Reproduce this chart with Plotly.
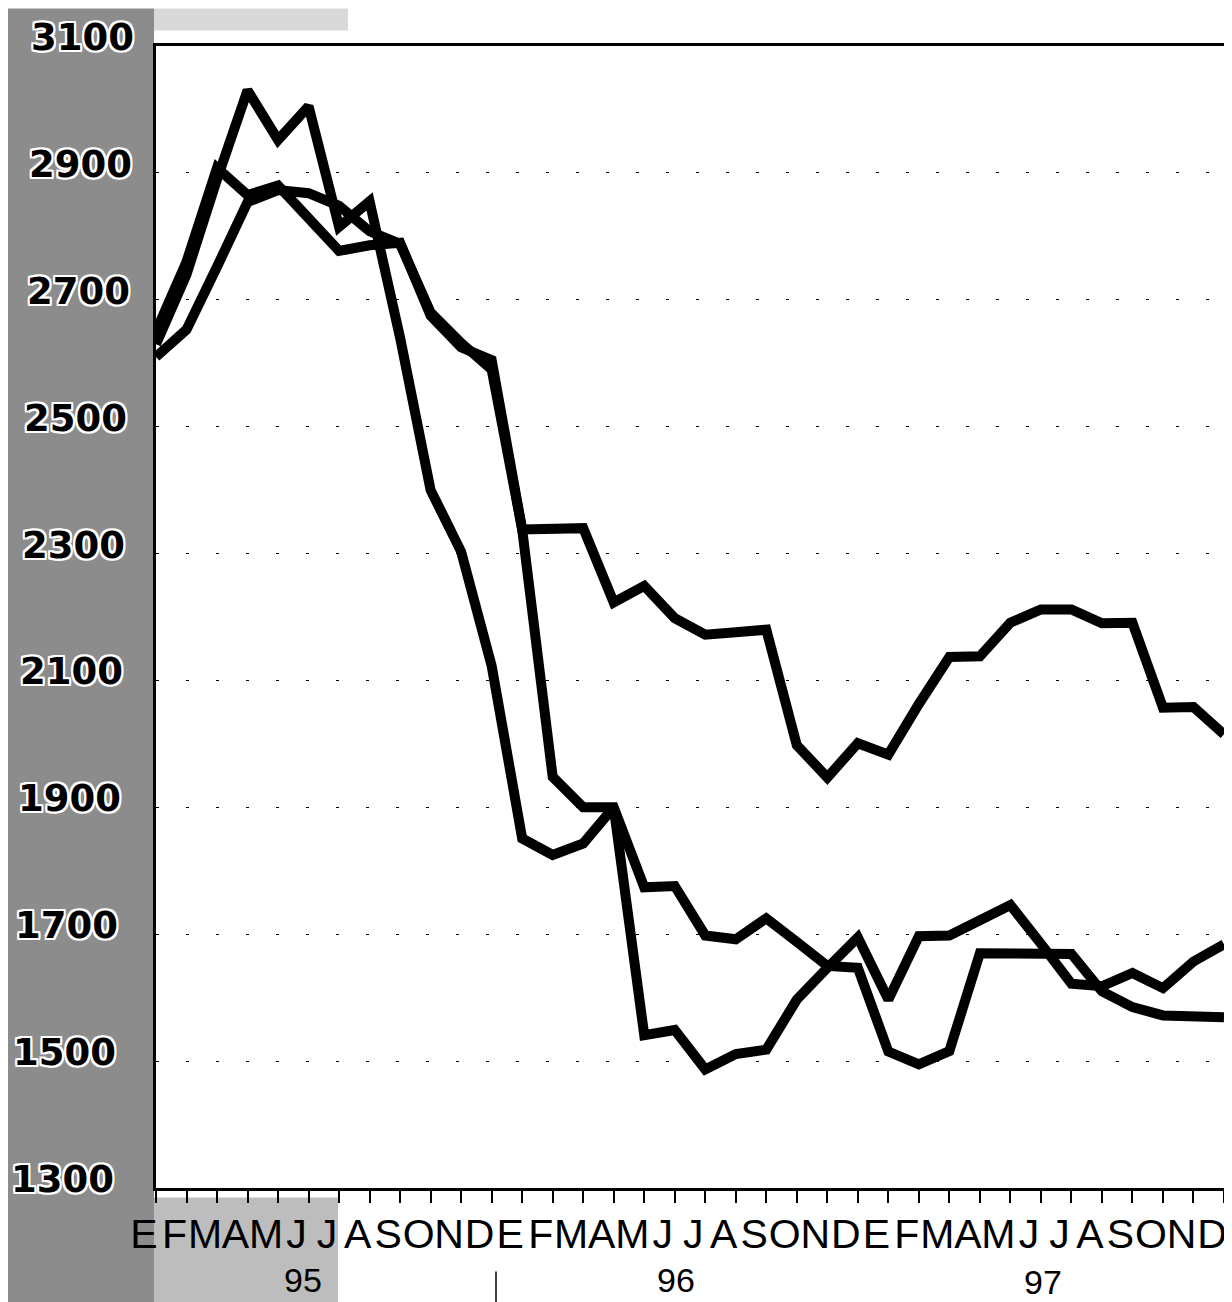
import plotly.graph_objects as go

# ---------------- data ----------------
month_letters = ["E", "F", "M", "A", "M", "J", "J", "A", "S", "O", "N", "D"] * 3
months = list(range(36))  # Jan-95 ... Dec-97
year_labels = ["95", "96", "97"]
y_ticks = [1300, 1500, 1700, 1900, 2100, 2300, 2500, 2700, 2900, 3100]

series_a = [2610, 2653, 2752, 2854, 2873, 2868, 2848, 2808, 2788, 2680, 2632, 2590,
            2338, 2340, 2340, 2223, 2249, 2198, 2172, 2176, 2180, 1998, 1947, 2001,
            1983, 2063, 2137, 2138, 2191, 2212, 2212, 2190, 2191, 2057, 2058, 2015]

series_b = [2650, 2760, 2908, 2865, 2880, 2830, 2777, 2786, 2790, 2675, 2625, 2605,
            2338, 1948, 1900, 1900, 1774, 1776, 1698, 1692, 1725, 1688, 1650, 1647,
            1515, 1495, 1516, 1670, 1670, 1670, 1669, 1610, 1585, 1572, 1570, 1569]

series_c = [2630, 2740, 2890, 3030, 2952, 3005, 2815, 2855, 2640, 2400, 2303, 2123,
            1851, 1825, 1843, 1900, 1541, 1549, 1487, 1511, 1518, 1597, 1647, 1695,
            1597, 1697, 1698, 1722, 1746, 1685, 1622, 1618, 1639, 1615, 1657, 1684]

# ---------------- layout geometry (pixels) ----------------
W, H = 1232, 1302
L, R, T, B = 148, 1216, 37.5, 1180.5


def px(xp):
    return (xp - L) / (R - L)


def py(yp):
    return (B - yp) / (B - T)


fig = go.Figure()
for s in (series_a, series_b, series_c):
    fig.add_trace(go.Scatter(x=months, y=s, mode="lines",
                             line=dict(color="black", width=10),
                             showlegend=False, hoverinfo="skip"))

shapes = []
# mottled scan band on the left (approximated by flat grey)
band = (f"M {px(0)} {py(0)} L {px(146)} {py(0)} L {px(146)} {py(H)} "
        f"L {px(0)} {py(H)} Z")
shapes.append(dict(type="path", xref="paper", yref="paper", path=band,
                   fillcolor="#8c8c8c", line=dict(width=0), layer="below"))
shapes.append(dict(type="rect", xref="paper", yref="paper",
                   x0=px(146), x1=px(330), y0=py(1190), y1=py(H),
                   fillcolor="#bdbdbd", line=dict(width=0), layer="below"))
shapes.append(dict(type="rect", xref="paper", yref="paper",
                   x0=px(146), x1=px(340), y0=py(0), y1=py(22),
                   fillcolor="#d9d9d9", line=dict(width=0), layer="below"))
# year separator
shapes.append(dict(type="line", xref="paper", yref="paper",
                   x0=px(488), x1=px(488), y0=py(1264), y1=py(1302),
                   line=dict(color="black", width=1.5)))

halo = ("-2px -2px 0 #fff, 2px -2px 0 #fff, -2px 2px 0 #fff, 2px 2px 0 #fff, "
        "0 2px 0 #fff, 0 -2px 0 #fff, 2px 0 0 #fff, -2px 0 0 #fff")
annotations = []
for v in y_ticks:
    annotations.append(dict(
        x=0, xref="paper", y=v, yref="y", text=str(v), showarrow=False,
        xanchor="right", yanchor="middle",
        xshift=-(20 + (3100 - v) / 1800 * 20), yshift=8.5,
        font=dict(family="DejaVu Sans", size=37, color="black",
                  weight="bold", shadow=halo)))

year_pos = [(295, 1273), (668, 1273), (1035, 1275)]
for lab, (xp, yp) in zip(year_labels, year_pos):
    annotations.append(dict(
        x=px(xp), xref="paper", y=py(yp), yref="paper", text=lab,
        showarrow=False, xanchor="center", yanchor="middle", borderpad=0,
        font=dict(family="Liberation Sans, Arial", size=34, color="black")))

fig.update_layout(
    width=W, height=H,
    margin=dict(l=L, r=W - R, t=T, b=H - B, pad=0),
    paper_bgcolor="white", plot_bgcolor="white",
    shapes=shapes, annotations=annotations,
    xaxis=dict(range=[0, 35], tickmode="array", tickvals=months,
               ticktext=month_letters, tickangle=0,
               ticks="outside", ticklen=12, tickwidth=1.5, tickcolor="black",
               showline=True, linewidth=3, linecolor="black", mirror=True,
               showgrid=False, zeroline=False, ticklabelshift=-12,
               ticklabelstandoff=-4,
               tickfont=dict(family="Liberation Sans, Arial", size=41,
                             color="black")),
    yaxis=dict(range=[1300, 3100], tickmode="array",
               tickvals=[1500, 1700, 1900, 2100, 2300, 2500, 2700, 2900],
               showticklabels=False, ticks="",
               showline=True, linewidth=3, linecolor="black", mirror=True,
               showgrid=True, gridcolor="black", gridwidth=1.2,
               griddash="3px,27px", zeroline=False),
)

fig.write_html("out.html")
